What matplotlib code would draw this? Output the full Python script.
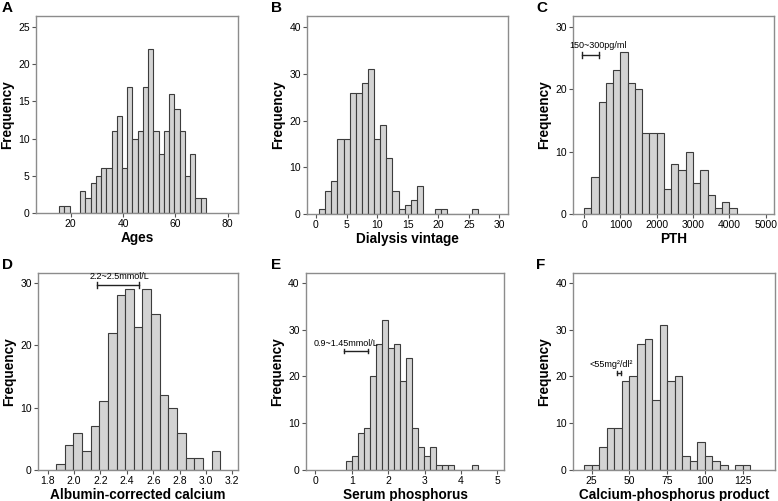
import matplotlib
matplotlib.use("Agg")
import matplotlib.pyplot as plt
import numpy as np

plt.rcParams['font.family'] = ['Liberation Sans', 'DejaVu Sans']

# ---- data (histogram counts) ----
age_start, age_width = 15.6, 2.0
age_counts = [1, 1, 0, 0, 3, 2, 4, 5, 6, 6, 11, 13, 6, 17, 10, 11, 17, 22, 11, 8, 11, 16, 14, 11, 5, 8, 2, 2]

vint_start, vint_width = 0.5, 1.0
vint_counts = [1, 5, 7, 16, 16, 26, 26, 28, 31, 16, 19, 12, 5, 1, 2, 3, 6, 0, 0, 1, 1, 0, 0, 0, 0, 1]

pth_start, pth_width = 0.0, 200.0
pth_counts = [1, 6, 18, 21, 23, 26, 21, 20, 13, 13, 13, 4, 8, 7, 10, 5, 7, 3, 1, 2, 1]

ca_start, ca_width = 1.863, 0.0655
ca_counts = [1, 4, 6, 3, 7, 11, 22, 28, 29, 23, 29, 25, 12, 10, 6, 2, 2, 0, 3]

p_start, p_width = 0.833, 0.165
p_counts = [2, 3, 8, 9, 20, 27, 32, 26, 27, 19, 24, 9, 5, 3, 5, 1, 1, 1, 0, 0, 0, 1]

cap_start, cap_width = 20.0, 5.0
cap_counts = [1, 1, 5, 9, 9, 19, 20, 27, 28, 15, 31, 19, 20, 3, 2, 6, 3, 2, 1, 0, 1, 1]

# reference-range annotations: (x0, x1, y, text, text_x, text_y)
pth_ref = (-60, 420, 25.5, "150~300pg/ml", 372, 27.0)
ca_ref = (2.17, 2.495, 29.7, "2.2~2.5mmol/L", 2.346, 31.0)
p_ref = (0.8, 1.456, 25.4, "0.9~1.45mmol/L", 0.85, 27.0)
cap_ref = (42.0, 44.4, 20.75, "<55mg²/dl²", 37.8, 22.5)

W, H = 778, 501
fig = plt.figure(figsize=(W / 100, H / 100), dpi=100)


def rect(l, r, t, b):
    return [l / W, 1 - b / H, (r - l) / W, (b - t) / H]


BAR_FC = '#d3d3d3'
BAR_EC = '#3c3c3c'
SPINE = '#8c8c8c'


def panel(box, start, width, counts, xlim, ylim, xticks, yticks, xlabel, xfmt=None):
    ax = fig.add_axes(rect(*box))
    counts = np.asarray(counts)
    lefts = start + width * np.arange(len(counts))
    ax.bar(lefts, counts, width=width, align='edge', color=BAR_FC,
           edgecolor=BAR_EC, linewidth=0.8)
    ax.set_xlim(*xlim)
    ax.set_ylim(*ylim)
    ax.set_xticks(xticks)
    ax.set_yticks(yticks)
    if xfmt:
        ax.set_xticklabels([xfmt.format(v) for v in xticks])
    for s in ax.spines.values():
        s.set_color(SPINE)
        s.set_linewidth(1.0)
    ax.tick_params(direction='out', length=3, width=0.8, color='#555555',
                   labelsize=7.5, pad=1.5)
    ax.set_xlabel(xlabel, fontsize=9.8, fontweight='bold', labelpad=1)
    ax.set_ylabel('Frequency', fontsize=9.8, fontweight='bold', labelpad=3)
    return ax


def ref_bar(ax, ref):
    x0, x1, y, txt, tx, ty = ref
    ax.plot([x0, x1], [y, y], color='#222222', lw=1.0)
    ax.plot([x0, x0], [y - 0.5, y + 0.5], color='#222222', lw=1.0)
    ax.plot([x1, x1], [y - 0.5, y + 0.5], color='#222222', lw=1.0)
    ax.text(tx, ty, txt, ha='center', va='center', fontsize=6.5,
            family=['Liberation Sans Narrow', 'Liberation Sans', 'DejaVu Sans'])


axA = panel((36, 238, 16, 213), age_start, age_width, age_counts, (6.74, 83.9), (0, 26.5),
            [20, 40, 60, 80], [0, 5, 10, 15, 20, 25], 'Ages')
axB = panel((307, 508, 16, 214), vint_start, vint_width, vint_counts, (-1.47, 31.4), (0, 42.4),
            [0, 5, 10, 15, 20, 25, 30], [0, 10, 20, 30, 40], 'Dialysis vintage')
axC = panel((573, 774, 16, 214), pth_start, pth_width, pth_counts, (-303, 5230), (0, 31.7),
            [0, 1000, 2000, 3000, 4000, 5000], [0, 10, 20, 30], 'PTH')
axD = panel((38, 238, 273, 470), ca_start, ca_width, ca_counts, (1.726, 3.243), (0, 31.6),
            [1.8, 2.0, 2.2, 2.4, 2.6, 2.8, 3.0, 3.2], [0, 10, 20, 30], 'Albumin-corrected calcium',
            xfmt='{:.1f}')
axE = panel((306, 504, 273, 470), p_start, p_width, p_counts, (-0.255, 5.18), (0, 42.1),
            [0, 1, 2, 3, 4, 5], [0, 10, 20, 30, 40], 'Serum phosphorus')
axF = panel((573, 775, 273, 470), cap_start, cap_width, cap_counts, (12.6, 146.4), (0, 42.1),
            [25, 50, 75, 100, 125], [0, 10, 20, 30, 40], 'Calcium-phosphorus product')

ref_bar(axC, pth_ref)
ref_bar(axD, ca_ref)
ref_bar(axE, p_ref)
ref_bar(axF, cap_ref)

for lbl, x, y in [('A', 2, 8), ('B', 271, 8), ('C', 536, 8),
                  ('D', 2, 265), ('E', 271, 265), ('F', 536, 265)]:
    fig.text(x / W, 1 - y / H, lbl, fontsize=11, fontweight='bold', va='center', ha='left')

fig.savefig('out.png', dpi=100)
